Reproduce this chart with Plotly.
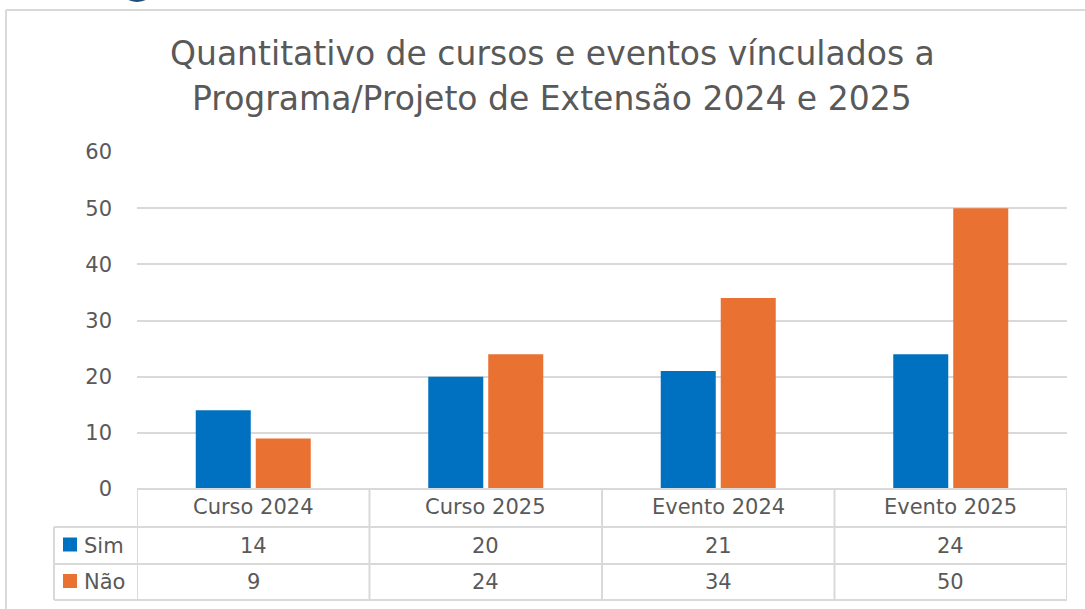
import plotly.graph_objects as go

categories = ["Curso 2024", "Curso 2025", "Evento 2024", "Evento 2025"]
series_names = ["Sim", "Não"]
sim_values = [14, 20, 21, 24]
nao_values = [9, 24, 34, 50]
colors = ["#0070C0", "#E97132"]
title_lines = ["Quantitativo de cursos e eventos vínculados a",
               "Programa/Projeto de Extensão 2024 e 2025"]
y_ticks = [0, 10, 20, 30, 40, 50, 60]

W, H = 1085, 609
def px(x):
    return x / W
def py(y):
    return (H - y) / H

TXT = "#595959"
GRID = "#D9D9D9"
FONT = "DejaVu Sans, Verdana, sans-serif"
FS = 21

fig = go.Figure()
for name, vals, col in zip(series_names, [sim_values, nao_values], colors):
    fig.add_trace(go.Bar(x=categories, y=vals, name=name, marker_color=col,
                         marker_line_width=0))

shapes = []
# outer frame (partially visible)
shapes.append(dict(type="line", xref="paper", yref="paper", x0=px(6), x1=1.0,
                   y0=py(10), y1=py(10), line=dict(color=GRID, width=2)))
shapes.append(dict(type="line", xref="paper", yref="paper", x0=px(6), x1=px(6),
                   y0=py(10), y1=0, line=dict(color=GRID, width=2)))
# logo fragment
shapes.append(dict(type="circle", xref="paper", yref="paper",
                   x0=px(118), x1=px(156), y0=py(-36), y1=py(2),
                   fillcolor="#1F4E79", line=dict(width=0)))

# data table lines
n = len(categories)
row_y = [489, 527, 564, 600]
shapes.append(dict(type="line", xref="x", yref="paper", x0=-0.5, x1=n - 0.5,
                   y0=py(row_y[0]), y1=py(row_y[0]), line=dict(color=GRID, width=2)))
for ry in row_y[1:]:
    shapes.append(dict(type="line", xref="paper", yref="paper", x0=px(54), x1=px(1067),
                       y0=py(ry), y1=py(ry), line=dict(color=GRID, width=2)))
for i in range(n + 1):
    shapes.append(dict(type="line", xref="x", yref="paper", x0=i - 0.5, x1=i - 0.5,
                       y0=py(row_y[0]), y1=py(row_y[-1]), line=dict(color=GRID, width=2)))
shapes.append(dict(type="line", xref="paper", yref="paper", x0=px(54), x1=px(54),
                   y0=py(row_y[1]), y1=py(row_y[-1]), line=dict(color=GRID, width=2)))

annotations = []
# header
for c in categories:
    annotations.append(dict(x=c, xref="x", y=py(507), yref="paper", text=c,
                            xanchor="center", yanchor="middle",
                            showarrow=False, font=dict(size=FS, color=TXT, family=FONT)))
# rows
for r, (name, vals, col) in enumerate(zip(series_names, [sim_values, nao_values], colors)):
    yc = (row_y[r + 1] + row_y[r + 2]) / 2
    for c, v in zip(categories, vals):
        annotations.append(dict(x=c, xref="x", y=py(yc), yref="paper", text=str(v),
                                xanchor="center", yanchor="middle",
                                showarrow=False, font=dict(size=FS, color=TXT, family=FONT)))
    shapes.append(dict(type="rect", xref="paper", yref="paper", x0=px(63), x1=px(77),
                       y0=py(yc + 6), y1=py(yc - 8), fillcolor=col, line=dict(width=0)))
    annotations.append(dict(x=px(82), xref="paper", y=py(yc), yref="paper", text=name,
                            xanchor="left", yanchor="middle", showarrow=False,
                            font=dict(size=FS, color=TXT, family=FONT)))
# title
for i, t in enumerate(title_lines):
    annotations.append(dict(x=px(552), xref="paper", y=py(53 + 45 * i), yref="paper",
                            text=t, showarrow=False, xanchor="center", yanchor="middle",
                            font=dict(size=33, color=TXT, family=FONT)))

fig.update_layout(
    width=W, height=H,
    margin=dict(l=0, r=0, t=0, b=0, autoexpand=False),
    paper_bgcolor="white", plot_bgcolor="white",
    showlegend=False,
    barmode="group", bargap=0.484, bargroupgap=0.083,
    xaxis=dict(domain=[px(137), px(1067)], range=[-0.5, n - 0.5],
               showticklabels=False, showgrid=False, zeroline=False, showline=False,
               ticks="", automargin=False),
    yaxis=dict(domain=[py(489), py(152)], range=[0, 60], tickvals=y_ticks,
               showgrid=True, gridcolor=GRID, gridwidth=2, zeroline=False,
               showline=False, ticks="", ticklabelstandoff=24, automargin=False,
               tickfont=dict(size=FS, color=TXT, family=FONT)),
    shapes=shapes, annotations=annotations,
)

fig.write_html("out.html", config={"responsive": False, "displayModeBar": False},
               post_script="document.body.style.margin='0';document.body.style.overflow='hidden';")
